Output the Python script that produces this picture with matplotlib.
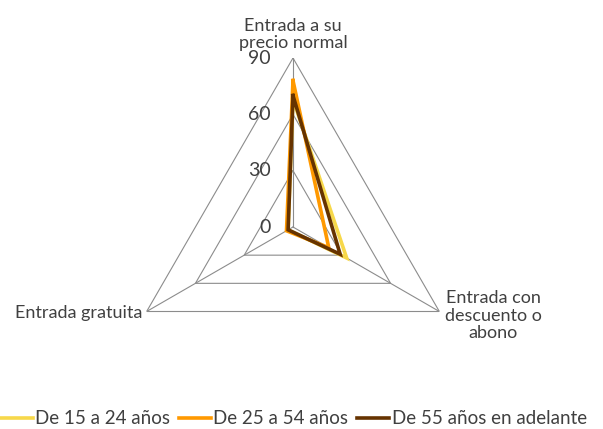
import numpy as np
import matplotlib
matplotlib.use("Agg")
import matplotlib.pyplot as plt

categories = ["Entrada a su\nprecio normal", "Entrada con\ndescuento o\nabono", "Entrada gratuita"]
series_names = ["De 15 a 24 años", "De 25 a 54 años", "De 55 años en adelante"]
v_15_24 = [68, 33, 3]
v_25_54 = [78, 22, 4]
v_55 = [70, 29, 3]
ticks = [0, 30, 60, 90]
tick_labels = ["0", "30", "60", "90"]
colors = ["#F7D84A", "#FF9900", "#663300"]

plt.rcParams['font.family'] = ['Lato', 'DejaVu Sans']
text_color = "#404040"

W, H = 603, 429
fig = plt.figure(figsize=(W / 100, H / 100), dpi=100)
cx, cy, R = 293, 227, 169
ax = fig.add_axes([(cx - R) / W, 1 - (cy + R) / H, 2 * R / W, 2 * R / H], projection='polar')
ax.set_theta_offset(np.pi / 2)
ax.set_theta_direction(-1)
ax.set_ylim(0, 90)
ax.grid(False)
ax.spines['polar'].set_visible(False)
ax.set_xticks([])
ax.set_yticks([])
ax.patch.set_alpha(0)

n = len(categories)
theta = np.arange(n) * 2 * np.pi / n
th_closed = np.append(theta, theta[0])

grid_col = "#8c8c8c"
for t in ticks[1:]:
    ax.plot(th_closed, [t] * (n + 1), color=grid_col, lw=0.8, zorder=1)
for th in theta:
    ax.plot([th, th], [0, ticks[-1]], color=grid_col, lw=0.8, zorder=1)

for vals, name, c in zip([v_15_24, v_25_54, v_55], series_names, colors):
    ax.plot(th_closed, vals + [vals[0]], color=c, lw=2.6, label=name, zorder=3,
            solid_joinstyle='miter')

for t, lab in zip(ticks, tick_labels):
    ax.annotate(lab, xy=(0, t), xytext=(-16, 0), textcoords='offset points',
                ha='right', va='center', fontsize=14, color=text_color)

fs = 13
ax.annotate(categories[0], xy=(theta[0], 90), xytext=(0, 5), textcoords='offset points',
            ha='center', va='bottom', fontsize=fs, color=text_color, linespacing=1.1)
ax.annotate(categories[1], xy=(theta[1], 90), xytext=(4, -3), textcoords='offset points',
            ha='left', va='center', fontsize=fs, color=text_color, linespacing=1.1,
            multialignment='center')
ax.annotate(categories[2], xy=(theta[2], 90), xytext=(-3, -1), textcoords='offset points',
            ha='right', va='center', fontsize=fs, color=text_color)

fig.legend(loc='lower center', bbox_to_anchor=(0.487, -0.035), ncol=3, frameon=False,
           fontsize=13.5, handlelength=1.7, handletextpad=0.15, columnspacing=0.45,
           labelcolor=text_color)

fig.savefig("out.png", dpi=100)
